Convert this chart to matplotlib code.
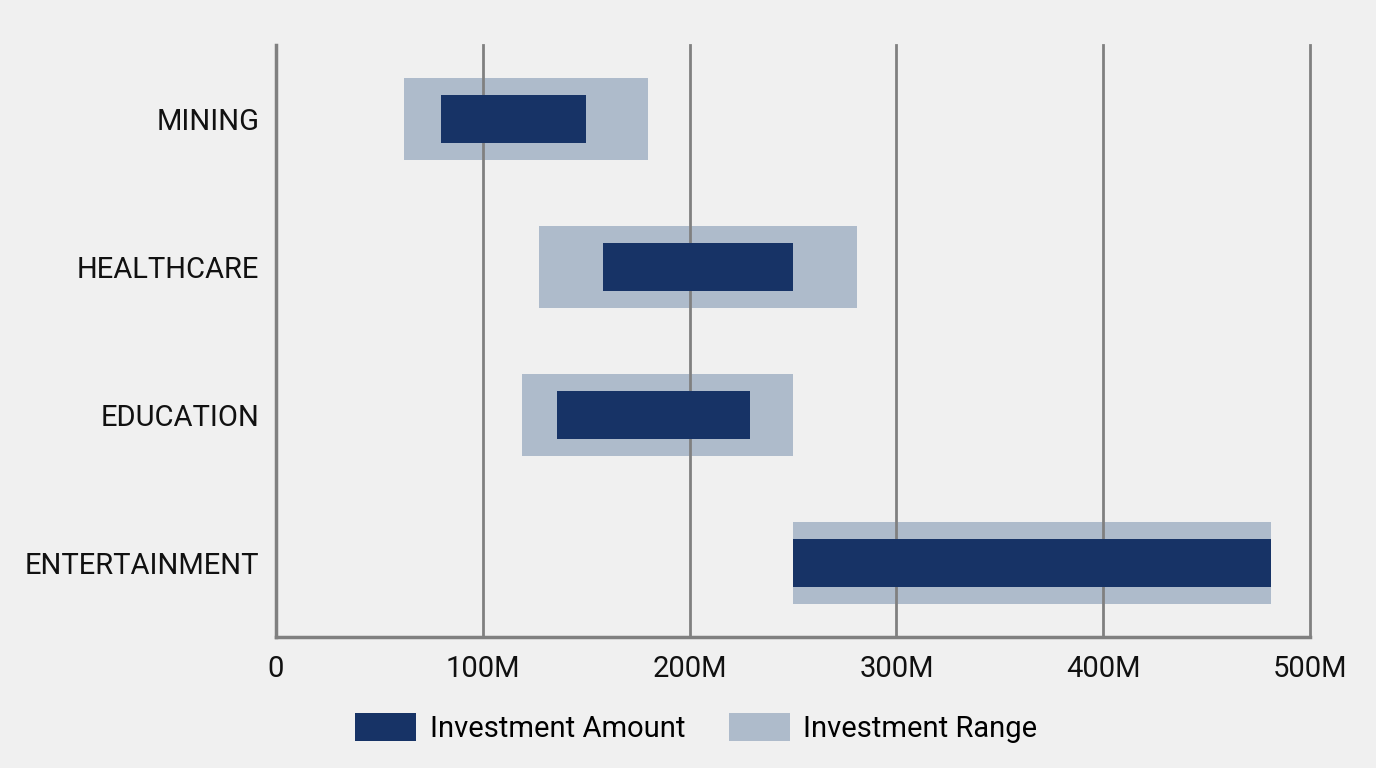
import matplotlib.pyplot as plt
from matplotlib.patches import Patch

sectors = ["MINING", "HEALTHCARE", "EDUCATION", "ENTERTAINMENT"]
range_low = [62, 127, 119, 250]
range_high = [180, 281, 250, 481]
amount_low = [80, 158, 136, 250]
amount_high = [150, 250, 229, 481]
x_ticks = [0, 100, 200, 300, 400, 500]
x_labels = ["0", "100M", "200M", "300M", "400M", "500M"]

bg = "#f0f0f0"
navy = "#173366"
light = "#aebbcb"
grid_c = "#808080"

plt.rcParams["font.family"] = ["Roboto", "DejaVu Sans"]

fig = plt.figure(figsize=(13.76, 7.68), dpi=100, facecolor=bg)
ax = fig.add_axes([0.2006, 0.1706, 0.7514, 0.7708], facecolor=bg)

ypos = list(range(len(sectors)))
ax.barh(ypos, [h - l for l, h in zip(range_low, range_high)], left=range_low,
        height=0.55, color=light, zorder=1)
ax.barh(ypos, [h - l for l, h in zip(amount_low, amount_high)], left=amount_low,
        height=0.32, color=navy, zorder=3)

for x in x_ticks[1:]:
    ax.axvline(x, color=grid_c, lw=2, zorder=2, clip_on=False)

ax.set_xlim(0, 500)
ax.set_ylim(3.5, -0.5)
ax.set_xticks(x_ticks)
ax.set_xticklabels(x_labels)
ax.set_yticks(ypos)
ax.set_yticklabels(sectors)
ax.tick_params(axis="both", length=0, labelsize=21, colors="#111111")
ax.tick_params(axis="y", pad=12)
ax.tick_params(axis="x", pad=13)

for s in ["top", "right"]:
    ax.spines[s].set_visible(False)
for s in ["left", "bottom"]:
    ax.spines[s].set_color(grid_c)
    ax.spines[s].set_linewidth(2.5)
    ax.spines[s].set_zorder(4)
    ax.spines[s].set_clip_on(False)

handles = [Patch(facecolor=navy, label="Investment Amount"),
           Patch(facecolor=light, label="Investment Range")]
fig.legend(handles=handles, loc="center", bbox_to_anchor=(0.506, 0.052), ncol=2,
           frameon=False, fontsize=21, handlelength=2.1, handleheight=1.1,
           handletextpad=0.45, columnspacing=1.5)

fig.savefig("out.png", dpi=100, facecolor=bg)
